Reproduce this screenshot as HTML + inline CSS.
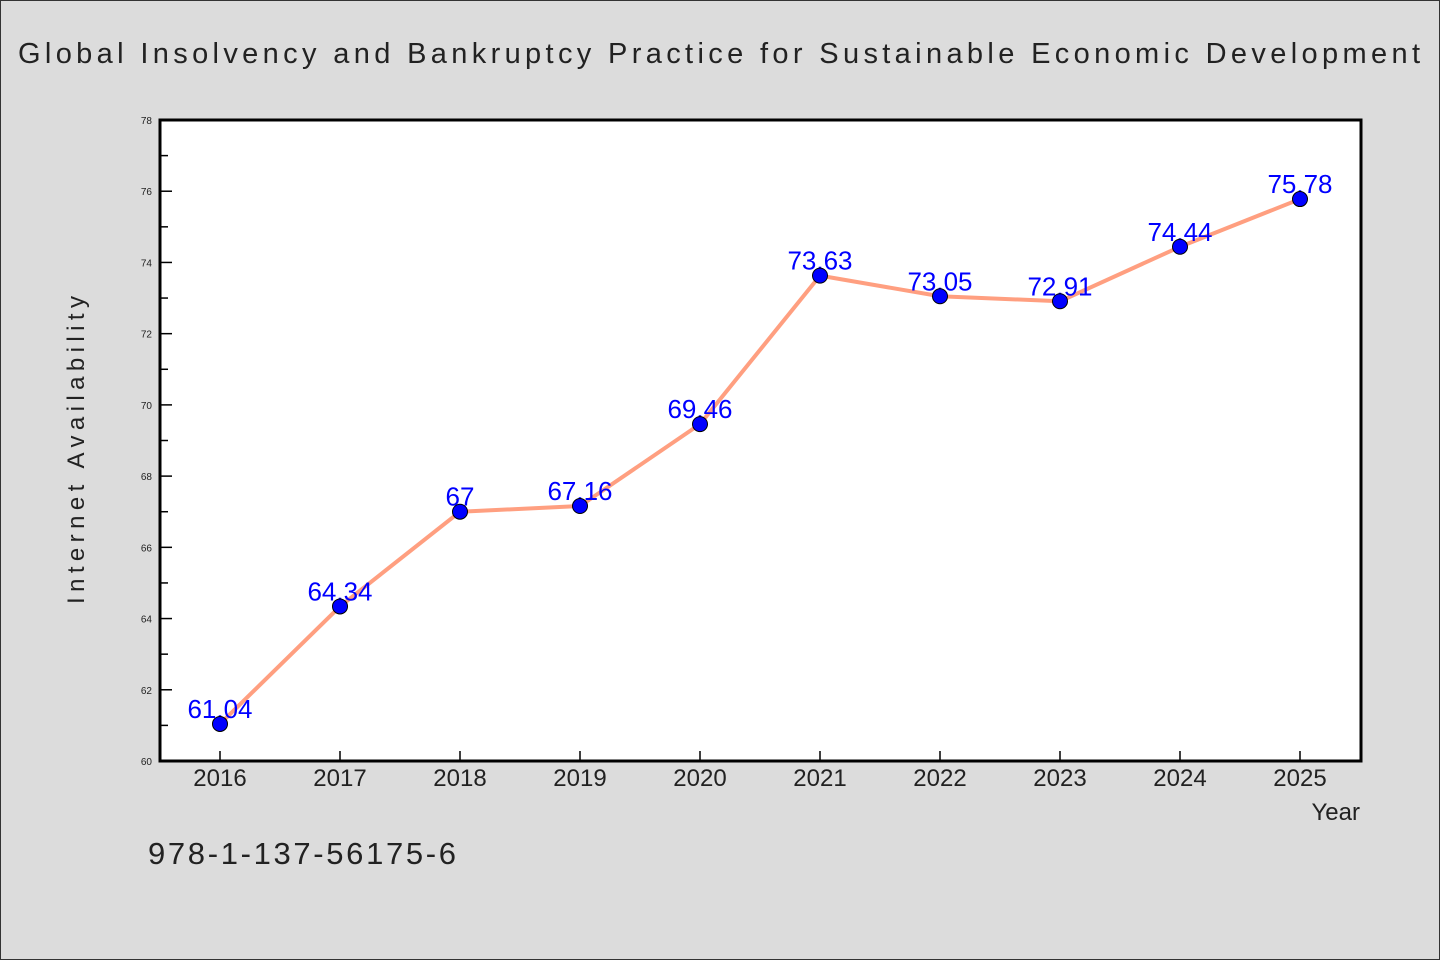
<!DOCTYPE html>
<html><head><meta charset="utf-8"><style>
html,body{margin:0;padding:0;background:#dcdcdc;}
svg{display:block;font-family:"WenQuanYi Zen Hei","Liberation Sans",sans-serif;}
</style></head><body>
<svg width="1440" height="960" viewBox="0 0 1440 960">
<rect x="0.5" y="0.5" width="1439" height="959" fill="#dcdcdc" stroke="#333"/>
<text x="18" y="63" font-size="29" fill="#222" textLength="1402" lengthAdjust="spacing">Global Insolvency and Bankruptcy Practice for Sustainable Economic Development</text>
<rect x="160" y="120" width="1201" height="641" fill="#fff"/>
<g id="axes"></g>
<g id="series"></g>
<rect x="160" y="120" width="1201" height="641" fill="none" stroke="#000" stroke-width="3"/>
<text transform="translate(84,604) rotate(-90)" font-size="24" fill="#222" textLength="308" lengthAdjust="spacing">Internet Availability</text>
<text x="1360" y="820" text-anchor="end" font-size="24" fill="#222">Year</text>
<text x="148" y="864" font-size="31" fill="#222" textLength="308" lengthAdjust="spacing">978-1-137-56175-6</text>
</svg>
<script>
const categories=["2016","2017","2018","2019","2020","2021","2022","2023","2024","2025"];
const values=[61.04,64.34,67,67.16,69.46,73.63,73.05,72.91,74.44,75.78];
const yTicks=[60,62,64,66,68,70,72,74,76,78];
(function(){
const NS="http://www.w3.org/2000/svg";
const yMin=60,yMax=78,pTop=120,pBot=761;
function yS(v){return pBot-(v-yMin)/(yMax-yMin)*(pBot-pTop);}
function xS(i){return 220+i*120;}
function mk(t,a,p){const e=document.createElementNS(NS,t);for(const k in a)e.setAttribute(k,a[k]);p.appendChild(e);return e;}
const ax=document.getElementById('axes');
yTicks.forEach(v=>{
 const l=mk('line',{x1:160,x2:172,y1:yS(v),y2:yS(v),stroke:'#000','stroke-width':1.5},ax);
 
 
 const t=mk('text',{x:152,y:yS(v)+4,'text-anchor':'end','font-size':10,fill:'#222'},ax);
 t.textContent=v;
 
 
 if(v<yMax){const m=mk('line',{x1:160,x2:168,y1:yS(v+1),y2:yS(v+1),stroke:'#000','stroke-width':1.5},ax);
 
 }
});
categories.forEach((c,i)=>{
 const l=mk('line',{x1:xS(i),x2:xS(i),y1:761,y2:751,stroke:'#000','stroke-width':1.5},ax);
 
 
 const t=mk('text',{x:xS(i),y:786,'text-anchor':'middle','font-size':24,fill:'#222'},ax);
 t.textContent=c;
 
 
});
const s=document.getElementById('series');
const line=mk('polyline',{points:values.map((v,i)=>xS(i)+','+yS(v)).join(' '),fill:'none',stroke:'#ff9f80','stroke-width':4,'stroke-linejoin':'round'},s);


values.forEach((v,i)=>{
 const t=mk('text',{x:xS(i),y:yS(v)-6,'text-anchor':'middle','font-size':26,fill:'#0000ff'},s);
 t.textContent=v;
 
 
});
values.forEach((v,i)=>{
 const c=mk('circle',{cx:xS(i),cy:yS(v),r:7.5,fill:'#0000ff',stroke:'#000','stroke-width':1},s);
 
 
});
})();
</script>
</body></html>
